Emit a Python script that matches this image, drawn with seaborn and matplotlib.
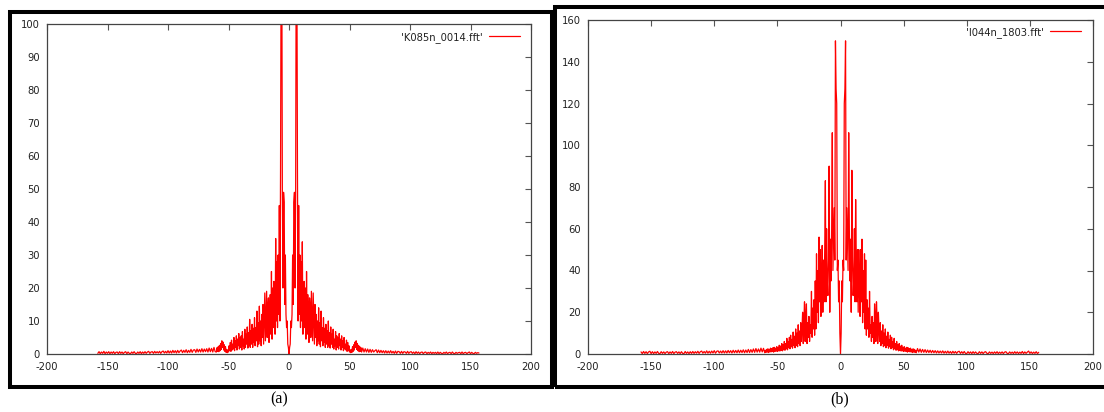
import numpy as np
import matplotlib
matplotlib.use("Agg")
import matplotlib.pyplot as plt
from matplotlib.patches import Rectangle
import seaborn as sns

# ---------------- data ----------------
# spectral bins: coarse tails, half-unit resolution in the centre
freq = np.concatenate([np.arange(-158, -60), np.arange(-60, 60.5, 0.5), np.arange(61, 158)])

a_left_tail = [
    0.2, 0.7, 0.1, 0.6, 0.2, 0.8, 0.1, 0.6, 0.2, 0.7,
    0.1, 0.6, 0.2, 0.7, 0.1, 0.5, 0.6, 0.1, 0.7, 0.2,
    0.6, 0.1, 0.5, 0.7, 0.1, 0.6, 0.2, 0.1, 0.6, 0.2,
    0.7, 0.2, 0.1, 0.6, 0.2, 0.7, 0.1, 0.6, 0.2, 0.7,
    0.2, 0.6, 0.8, 0.2, 0.6, 0.7, 0.2, 0.8, 0.3, 0.7,
    0.3, 0.8, 0.2, 0.7, 0.9, 0.3, 0.8, 0.3, 1.0, 0.3,
    0.9, 0.3, 1.1, 0.4, 1.0, 0.3, 1.1, 0.4, 0.9, 1.2,
    0.4, 1.1, 0.5, 1.3, 0.4, 1.1, 0.5, 1.4, 0.5, 1.2,
    1.3, 0.5, 1.5, 0.6, 1.4, 0.6, 1.6, 0.6, 1.5, 0.7,
    1.6, 0.6, 1.8, 0.7, 1.7, 0.6, 2.0, 0.7,
]
a_center = [
    0.6, 1.9, 0.8, 2.2, 0.7, 2.6, 1.0, 3.2, 1.4, 4.0,
    2.0, 3.6, 1.2, 2.8, 0.8, 2.2, 0.5, 1.4, 0.4, 1.2,
    0.6, 2.5, 1.0, 3.5, 0.8, 4.2, 1.2, 3.0, 1.5, 5.0,
    1.0, 4.0, 2.0, 5.5, 1.2, 4.5, 2.5, 6.2, 1.5, 5.0,
    2.0, 5.5, 1.2, 6.8, 2.5, 4.5, 1.5, 7.5, 2.0, 6.0,
    3.0, 8.2, 1.8, 6.5, 2.5, 10.5, 2.0, 7.0, 3.0, 9.0,
    2.0, 7.8, 3.5, 11.0, 2.5, 8.0, 4.0, 13.0, 2.2, 9.5,
    3.0, 14.5, 4.0, 10.0, 2.5, 12.0, 5.0, 15.0, 3.0, 11.0,
    18.5, 4.0, 12.0, 19.0, 5.0, 14.0, 17.0, 3.5, 13.0, 18.0,
    6.0, 25.0, 4.5, 20.0, 8.0, 22.0, 18.0, 6.0, 35.0, 10.0,
    28.0, 8.0, 30.0, 12.0, 45.0, 10.0, 55.0, 120.0, 130.0, 49.0,
    20.0, 49.0, 46.0, 15.0, 30.0, 12.0, 8.0, 10.0, 3.0, 2.0,
    0.0,
    2.0, 3.0, 10.0, 8.0, 12.0, 30.0, 15.0, 46.0, 49.0, 20.0,
    49.0, 130.0, 120.0, 55.0, 10.0, 45.0, 12.0, 30.0, 8.0, 28.0,
    10.0, 34.0, 6.0, 18.0, 22.0, 8.0, 20.0, 4.5, 25.0, 6.0,
    18.0, 13.0, 3.5, 17.0, 14.0, 5.0, 19.0, 12.0, 4.0, 18.5,
    11.0, 3.0, 15.0, 5.0, 12.0, 2.5, 10.0, 4.0, 14.0, 3.0,
    9.5, 2.2, 13.0, 4.0, 8.0, 2.5, 11.0, 3.5, 7.8, 2.0,
    9.0, 3.0, 7.0, 2.0, 10.0, 2.5, 6.5, 1.8, 8.2, 3.0,
    6.0, 2.0, 7.5, 1.5, 4.5, 2.5, 6.8, 1.2, 5.5, 2.0,
    5.0, 1.5, 6.2, 2.5, 4.5, 1.2, 5.5, 2.0, 4.0, 1.0,
    5.0, 1.5, 3.0, 1.2, 4.2, 0.8, 3.5, 1.0, 2.5, 0.6,
    1.2, 0.4, 1.4, 0.5, 2.2, 0.8, 2.8, 1.2, 3.6, 2.0,
    4.0, 1.4, 3.2, 1.0, 2.6, 0.7, 2.2, 0.8, 1.9, 0.6,
]
a_right_tail = [
    1.8, 0.6, 1.6, 0.6, 1.5, 0.5, 1.4, 0.5, 1.3, 0.6,
    1.0, 1.3, 0.4, 1.2, 0.4, 1.1, 0.4, 1.0, 0.3, 1.0,
    0.3, 0.9, 0.3, 1.0, 0.3, 0.8, 0.2, 0.9, 0.2, 0.8,
    0.7, 0.2, 0.8, 0.2, 0.7, 0.6, 0.2, 0.8, 0.2, 0.6,
    0.7, 0.2, 0.6, 0.1, 0.7, 0.2, 0.6, 0.1, 0.5, 0.6,
    0.1, 0.5, 0.6, 0.1, 0.5, 0.2, 0.6, 0.1, 0.5, 0.2,
    0.5, 0.1, 0.6, 0.1, 0.5, 0.2, 0.1, 0.5, 0.2, 0.6,
    0.1, 0.4, 0.5, 0.1, 0.6, 0.2, 0.1, 0.5, 0.2, 0.4,
    0.5, 0.1, 0.6, 0.1, 0.4, 0.5, 0.1, 0.4, 0.6, 0.1,
    0.5, 0.2, 0.1, 0.5, 0.2, 0.4, 0.3,
]

b_left_tail = [
    1.0, 0.2, 1.2, 0.3, 1.1, 0.2, 1.0, 1.3, 0.2, 1.1,
    0.2, 1.0, 0.3, 1.2, 0.3, 0.2, 1.1, 0.3, 1.0, 0.2,
    0.9, 1.1, 0.2, 1.0, 0.3, 1.2, 0.2, 0.9, 1.1, 0.3,
    1.0, 0.2, 1.1, 0.3, 0.2, 1.2, 0.3, 1.0, 0.2, 1.1,
    0.3, 1.2, 0.3, 1.1, 0.4, 1.3, 0.3, 1.1, 1.4, 0.4,
    1.2, 0.4, 1.5, 0.4, 1.3, 0.4, 1.4, 0.5, 1.6, 0.4,
    1.3, 1.5, 0.5, 1.4, 0.5, 1.6, 0.5, 1.5, 0.5, 1.7,
    0.6, 1.6, 0.5, 1.8, 0.6, 1.7, 0.6, 1.9, 0.6, 1.8,
    0.7, 2.0, 0.6, 1.9, 0.7, 2.2, 0.7, 2.1, 0.8, 2.4,
    0.8, 2.6, 0.9, 2.4, 0.9, 2.8, 1.0, 2.7,
]
b_center = [
    0.6, 1.8, 0.8, 2.2, 0.9, 2.5, 0.7, 2.2, 1.0, 2.8,
    1.0, 2.6, 1.2, 3.0, 0.9, 3.2, 1.2, 2.8, 1.4, 3.5,
    1.2, 3.2, 1.5, 4.2, 1.4, 3.8, 1.8, 5.0, 1.5, 4.5,
    2.0, 6.0, 1.8, 5.0, 2.5, 7.5, 2.0, 6.0, 3.0, 8.0,
    2.5, 9.0, 3.5, 7.0, 2.8, 10.5, 4.0, 8.5, 3.0, 12.0,
    4.0, 10.0, 3.5, 14.0, 5.0, 11.0, 4.0, 15.0, 6.0, 12.0,
    20.0, 5.0, 16.0, 25.0, 6.0, 18.0, 24.0, 5.0, 15.0, 8.0,
    18.0, 6.0, 14.0, 10.0, 30.0, 8.0, 22.0, 12.0, 26.0, 9.0,
    35.0, 12.0, 48.0, 20.0, 40.0, 15.0, 56.0, 25.0, 50.0, 18.0,
    30.0, 52.0, 20.0, 45.0, 25.0, 50.0, 83.0, 25.0, 60.0, 35.0,
    28.0, 45.0, 90.0, 20.0, 55.0, 35.0, 60.0, 106.0, 40.0, 55.0,
    70.0, 45.0, 150.0, 127.0, 120.0, 40.0, 45.0, 25.0, 35.0, 10.0,
    0.0,
    10.0, 35.0, 25.0, 45.0, 40.0, 120.0, 127.0, 150.0, 45.0, 70.0,
    55.0, 40.0, 106.0, 60.0, 35.0, 55.0, 20.0, 88.0, 45.0, 28.0,
    35.0, 60.0, 25.0, 74.0, 45.0, 25.0, 50.0, 20.0, 50.0, 30.0,
    18.0, 50.0, 25.0, 55.0, 15.0, 40.0, 20.0, 48.0, 12.0, 45.0,
    9.0, 26.0, 12.0, 22.0, 8.0, 30.0, 10.0, 14.0, 6.0, 18.0,
    8.0, 15.0, 5.0, 24.0, 18.0, 6.0, 25.0, 16.0, 5.0, 20.0,
    12.0, 6.0, 15.0, 4.0, 11.0, 5.0, 14.0, 3.5, 10.0, 4.0,
    12.0, 3.0, 8.5, 4.0, 10.5, 2.8, 7.0, 3.5, 9.0, 2.5,
    8.0, 3.0, 6.0, 2.0, 7.5, 2.5, 5.0, 1.8, 6.0, 2.0,
    4.5, 1.5, 5.0, 1.8, 3.8, 1.4, 4.2, 1.5, 3.2, 1.2,
    3.5, 1.4, 2.8, 1.2, 3.2, 0.9, 3.0, 1.2, 2.6, 1.0,
    2.8, 1.0, 2.2, 0.7, 2.5, 0.9, 2.2, 0.8, 1.8, 0.6,
]
b_right_tail = [
    2.6, 0.9, 2.4, 0.8, 2.2, 0.8, 2.1, 0.7, 1.9, 0.7,
    1.8, 0.6, 1.7, 0.6, 1.6, 0.5, 1.5, 0.5, 1.4, 0.5,
    1.5, 0.4, 1.3, 0.4, 1.4, 0.4, 1.2, 0.3, 1.3, 0.4,
    1.2, 0.3, 1.1, 1.3, 0.3, 1.1, 0.3, 1.2, 0.3, 0.2,
    1.1, 0.3, 1.0, 0.2, 1.1, 0.3, 1.0, 0.3, 0.2, 1.1,
    0.3, 1.0, 0.2, 0.9, 1.1, 0.3, 0.2, 1.0, 0.3, 0.9,
    0.2, 1.0, 0.3, 1.1, 0.2, 0.9, 0.3, 1.0, 0.2, 0.9,
    1.1, 0.3, 0.2, 1.0, 0.3, 0.9, 0.2, 1.1, 0.3, 1.0,
    0.2, 0.9, 0.3, 1.2, 0.2, 1.0, 0.3, 0.9, 1.4, 0.3,
    1.0, 0.2, 0.9, 0.3, 1.1, 0.2, 0.8,
]

spec_a = np.array(a_left_tail + a_center + a_right_tail)
spec_b = np.array(b_left_tail + b_center + b_right_tail)

labels = ["'K085n_0014.fft'", "'I044n_1803.fft'"]
captions = ["(a)", "(b)"]
x_ticks = [-200, -150, -100, -50, 0, 50, 100, 150, 200]
y_ticks_a = [0, 10, 20, 30, 40, 50, 60, 70, 80, 90, 100]
y_ticks_b = [0, 20, 40, 60, 80, 100, 120, 140, 160]

# ---------------- style ----------------
sns.set_theme(style="white")
plt.rcParams["font.family"] = ["DejaVu Sans"]
plt.rcParams["font.stretch"] = "condensed"
plt.rcParams["axes.unicode_minus"] = False

W, H = 1104, 412
fig = plt.figure(figsize=(W / 100, H / 100), dpi=100)
fig.patch.set_facecolor("white")


def fx(px):
    return px / W


def fy(py):
    return 1 - py / H


ax1 = fig.add_axes([fx(47), fy(354), fx(531) - fx(47), fy(24) - fy(354)])
ax2 = fig.add_axes([fx(588), fy(354), fx(1093) - fx(588), fy(20) - fy(354)])

panels = [
    (ax1, spec_a, labels[0], y_ticks_a, (0.977, 0.975)),
    (ax2, spec_b, labels[1], y_ticks_b, (0.976, 0.978)),
]

for ax, spec, lab, yt, anchor in panels:
    sns.lineplot(x=freq, y=spec, ax=ax, color="#ff0000", linewidth=0.9,
                 label=lab, estimator=None, sort=False)
    ax.set_xlim(-200, 200)
    ax.set_ylim(yt[0], yt[-1])
    ax.set_xticks(x_ticks)
    ax.set_yticks(yt)
    ax.set_xlabel("")
    ax.set_ylabel("")
    ax.tick_params(direction="in", top=True, right=True, length=4, width=0.8,
                   color="#555555", labelsize=8, labelcolor="#222222")
    ax.tick_params(axis="x", pad=6)
    ax.tick_params(axis="y", pad=5)
    for sp in ax.spines.values():
        sp.set_color("#444444")
        sp.set_linewidth(0.9)
    leg = ax.legend(loc="upper right", bbox_to_anchor=anchor, frameon=False,
                    markerfirst=False, handlelength=2.8, handletextpad=0.5,
                    borderpad=0, borderaxespad=0, fontsize=8)
    for t in leg.get_texts():
        t.set_color("#222222")

# outer black frames
lw = 2.9
fig.patches.append(Rectangle((fx(9.5), fy(387)), fx(551.5) - fx(9.5), fy(12) - fy(387),
                             transform=fig.transFigure, fill=False, ec="black", lw=lw))
fig.patches.append(Rectangle((fx(554.5), fy(387)), fx(1112) - fx(554.5), fy(7) - fy(387),
                             transform=fig.transFigure, fill=False, ec="black", lw=lw))

fig.text(fx(279), fy(399), captions[0], ha="center", va="center",
         family="Liberation Serif", fontsize=11.5, color="black")
fig.text(fx(840), fy(399), captions[1], ha="center", va="center",
         family="Liberation Serif", fontsize=11.5, color="black")

fig.savefig("out.png", dpi=100)
